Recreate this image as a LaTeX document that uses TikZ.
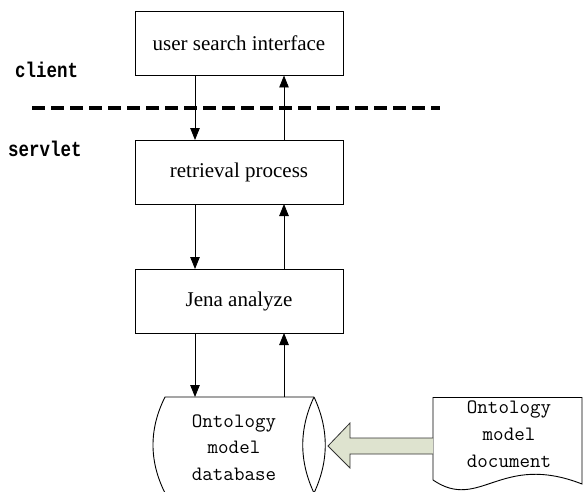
\documentclass[tikz,border=0pt]{standalone}
\usepackage{fontspec}
\setmainfont{Liberation Serif}
\newfontfamily\monof[FakeStretch=0.82]{Liberation Mono}
\usetikzlibrary{arrows.meta}
\definecolor{arrowfill}{RGB}{222,227,207}
\definecolor{edgegray}{RGB}{50,50,50}
\tikzset{
  procbox/.style={draw=black, line width=0.9pt, minimum width=208pt, minimum height=64pt,
    inner sep=0pt, outer sep=0pt, font=\fontsize{21}{25}\selectfont},
  flowarr/.style={line width=0.9pt, -{Triangle[length=12pt,width=9.5pt]}},
  monotext/.style={font=\ttfamily\fontsize{20.4}{26.7}\selectfont, align=center, inner sep=0pt},
  sidelabel/.style={font=\monof\bfseries\fontsize{21.3}{24}\selectfont, inner sep=0pt},
  shapeline/.style={draw=black, line width=0.9pt}
}
\begin{document}
\begin{tikzpicture}[x=1pt,y=-1pt]
\useasboundingbox (0,0) rectangle (583,492);

% process boxes
\node[procbox] (ui) at (239,43.5) {user search interface};
\node[procbox] (rp) at (239,172) {retrieval process};
\node[procbox] (ja) at (239,301) {Jena analyze};

% side labels
\node[sidelabel, anchor=base west] (client) at (15,78) {client};
\node[sidelabel, anchor=base west] (servlet) at (8,156) {servlet};

% dashed separator
\coordinate (sepL) at (32,108);
\coordinate (sepR) at (440,108);
\draw[line width=3.3pt, dash pattern=on 12.5pt off 6.5pt] (sepL) -- (sepR);

% arrow columns
\coordinate (dl) at (195,0);
\coordinate (ur) at (284,0);

% database (horizontal cylinder)
\coordinate (dbtop) at (239,397);
\draw[shapeline] (314,493) -- (165,493) .. controls (149,461) and (149,429) .. (165,397) -- (314,397);
\draw[shapeline] (314,397) .. controls (299,429) and (299,461) .. (314,493)
                 .. controls (329,461) and (329,429) .. (314,397);
\node[monotext, anchor=base] (db) at (234,480.4) {Ontology\\model\\database};

% document shape
\draw[shapeline] (433,480) -- (433,397.5) -- (582,397.5) -- (582,484)
   .. controls (500,452) and (480,512) .. (433,480);
\node[monotext, anchor=base] (doc) at (509,467) {Ontology\\model\\document};
\coordinate (docw) at (433,446);

% block arrow from document to database
\draw[draw=edgegray, line width=0.8pt, fill=arrowfill]
  (docw |- 0,438) -- (350,438) -- (350,423) -- (328,446) -- (350,468) -- (350,454) -- (docw |- 0,454);

% flow arrows
\draw[flowarr] (ui.south -| dl) -- (rp.north -| dl);
\draw[flowarr] (rp.north -| ur) -- (ui.south -| ur);
\draw[flowarr] (rp.south -| dl) -- (ja.north -| dl);
\draw[flowarr] (ja.north -| ur) -- (rp.south -| ur);
\draw[flowarr] (ja.south -| dl) -- (dbtop -| dl);
\draw[flowarr] (dbtop -| ur) -- (ja.south -| ur);
\end{tikzpicture}
\end{document}
